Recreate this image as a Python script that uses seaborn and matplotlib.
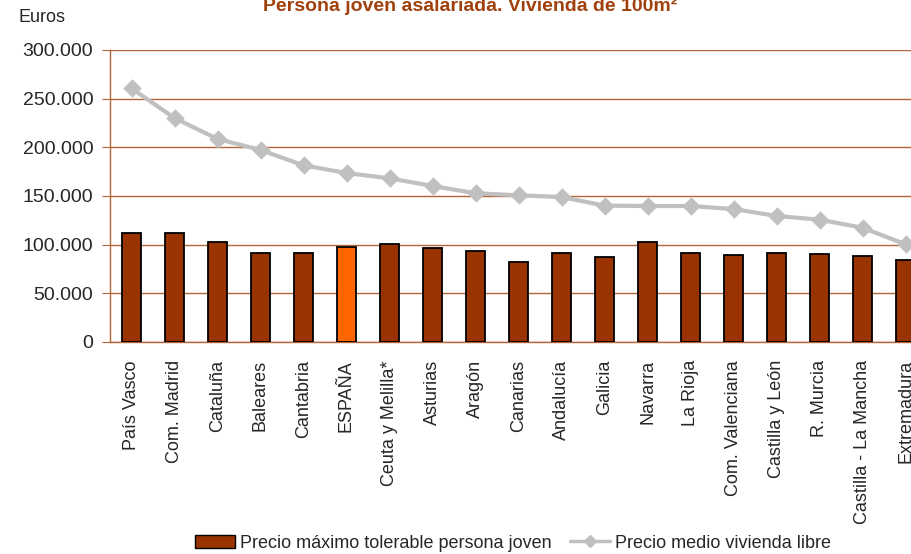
import matplotlib
matplotlib.use("Agg")
import matplotlib.pyplot as plt
from matplotlib.ticker import FuncFormatter, MultipleLocator
from matplotlib.patches import Patch
from matplotlib.lines import Line2D
import seaborn as sns
import pandas as pd

regiones = ["País Vasco", "Com. Madrid", "Cataluña", "Baleares", "Cantabria", "ESPAÑA",
            "Ceuta y Melilla*", "Asturias", "Aragón", "Canarias", "Andalucía", "Galicia",
            "Navarra", "La Rioja", "Com. Valenciana", "Castilla y León", "R. Murcia",
            "Castilla - La Mancha", "Extremadura"]
precio_max_joven = [112300, 111700, 103100, 91800, 91100, 97300, 100700, 96200, 93200, 82200,
                    91100, 87700, 103100, 91800, 89700, 91100, 90800, 88700, 84600]
precio_medio_libre = [260600, 230100, 208600, 197300, 181500, 173600, 168200, 160300, 152800,
                      150700, 149000, 140100, 139700, 139700, 136600, 129500, 125700, 117400, 100400]

df = pd.DataFrame({"region": regiones, "joven": precio_max_joven, "libre": precio_medio_libre})

sns.set_style("white")
plt.rcParams["font.family"] = ["Liberation Sans Narrow", "Liberation Sans", "DejaVu Sans"]

fig = plt.figure(figsize=(9.11, 5.54), dpi=100)
ax = fig.add_axes([110 / 911, 1 - 342 / 554, 817 / 911, 292 / 554])

bar_colors = ["#ff6600" if r == "ESPAÑA" else "#993300" for r in regiones]
sns.barplot(data=df, x="region", y="joven", hue="region", palette=bar_colors, legend=False,
            saturation=1, width=0.42, edgecolor="black", linewidth=1.3, ax=ax, zorder=3)
sns.pointplot(data=df, x="region", y="libre", color="#c0c0c0", markers="D", markersize=7,
              linewidth=3, ax=ax, zorder=4)

ax.set_ylim(0, 300000)
ax.set_xlim(-0.5, len(regiones) - 0.5)
ax.yaxis.set_major_locator(MultipleLocator(50000))
ax.yaxis.set_major_formatter(FuncFormatter(lambda v, p: f"{int(v):,}".replace(",", ".")))
ax.grid(axis="y", color="#b5653a", linewidth=1, zorder=0)
ax.set_axisbelow(True)
for s in ["top", "right"]:
    ax.spines[s].set_visible(False)
for s in ["left", "bottom"]:
    ax.spines[s].set_color("#b5653a")
    ax.spines[s].set_linewidth(1)
ax.tick_params(axis="y", which="major", length=6, color="#b5653a", labelsize=14, left=True, pad=6)
ax.tick_params(axis="x", length=0, labelsize=13, rotation=90, pad=13)
ax.set_xlabel("")
ax.set_ylabel("")

fig.text(18 / 911, 1 - 18 / 554, "Euros", fontsize=13, va="center", ha="left")
fig.text(470 / 911, 1 - 6 / 554, "Persona joven asalariada. Vivienda de 100m²", fontsize=14,
         fontweight="bold", color="#a0410d", ha="center", va="center")

handles = [Patch(facecolor="#993300", edgecolor="black", linewidth=1),
           Line2D([0], [0], color="#c0c0c0", lw=2.5, marker="D", markersize=6)]
fig.legend(handles, ["Precio máximo tolerable persona joven", "Precio medio vivienda libre"],
           loc="center", bbox_to_anchor=(513 / 911, 1 - 543 / 554), ncol=2, frameon=False,
           fontsize=13, handlelength=2.2, handletextpad=0.3, columnspacing=1.0)

fig.savefig("out.png", dpi=100)
